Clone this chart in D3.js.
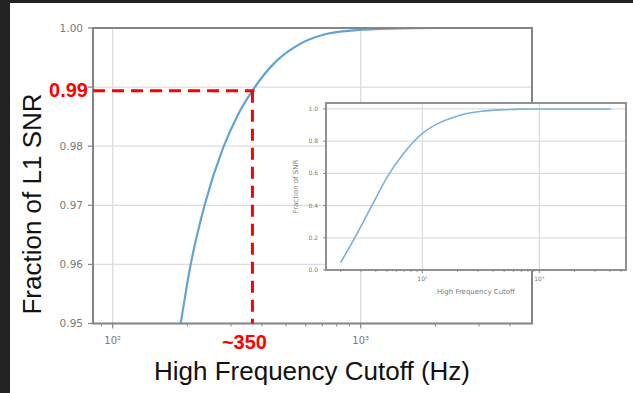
<!DOCTYPE html>
<html>
<head>
<meta charset="utf-8">
<script src="https://cdn.jsdelivr.net/npm/d3@7"></script>
<style>
  html, body { margin: 0; padding: 0; background: #ffffff; }
  svg { display: block; }
</style>
</head>
<body>
<svg id="chart" width="633" height="393"></svg>
<script>
// ---------------- data ----------------
const freqHz = [20, 27.5, 37, 50, 69, 100, 141, 175, 188, 205, 235, 279, 320, 369, 458, 552, 706, 963, 1313, 2000, 4096];
const snrFraction = [0.046, 0.223, 0.40, 0.577, 0.723, 0.848, 0.915, 0.9423, 0.950, 0.9594, 0.9701, 0.97975, 0.98534, 0.98963, 0.99444, 0.99698, 0.99885, 0.99963, 0.9999, 1.0, 1.0];
const mainYTicks = [0.95, 0.96, 0.97, 0.98, 0.99, 1.00];
const mainYTickLabels = ["0.95", "0.96", "0.97", "0.98", "0.99", "1.00"];
const majorXTicks = [100, 1000];
const majorXTickLabels = ["10\u00B2", "10\u00B3"];
const mainMinorXTicks = [90, 200, 300, 400, 500, 600, 700, 800, 900, 2000, 3000, 4000];
const insetYTicks = [0.0, 0.2, 0.4, 0.6, 0.8, 1.0];
const insetYTickLabels = ["0.0", "0.2", "0.4", "0.6", "0.8", "1.0"];
const insetMinorXTicks = [20, 30, 40, 50, 60, 70, 80, 90, 200, 300, 400, 500, 600, 700, 800, 900, 2000, 3000, 4000, 5000];
const cutoffHz = [366];
const cutoffFraction = [0.9894];
const cutoffLabels = ["0.99", "~350"];
const mainXLabel = "High Frequency Cutoff (Hz)";
const mainYLabel = "Fraction of L1 SNR";
const insetXLabel = "High Frequency Cutoff";
const insetYLabel = "Fraction of SNR";

// ---------------- drawing ----------------
const svg = d3.select("#chart");
const W = 633, H = 393;

// dark frame of the screenshot
svg.append("rect").attr("x", 0).attr("y", 0).attr("width", W).attr("height", H).attr("fill", "#232323");
svg.append("rect").attr("x", 10).attr("y", 3).attr("width", W - 10).attr("height", H - 3).attr("fill", "#ffffff");

const tickFont = "'DejaVu Sans', sans-serif";
const labelFont = "'Liberation Sans', Arial, sans-serif";
const tickColor = "#7a7a7a";
const gridColor = "#dcdcdc";
const frameColor = "#858585";

// ---- main plot ----
const M = { left: 93, right: 532, top: 28, bottom: 323.5 };
const x = d3.scaleLog().domain([83.3, 4906]).range([M.left, M.right]);
const y = d3.scaleLinear().domain([0.95, 1.0]).range([M.bottom, M.top]);

const gMain = svg.append("g");

// grid
gMain.selectAll("line.gy").data(mainYTicks).join("line")
  .attr("x1", M.left).attr("x2", M.right)
  .attr("y1", d => y(d)).attr("y2", d => y(d))
  .attr("stroke", gridColor).attr("stroke-width", 1.3);
gMain.selectAll("line.gx").data(majorXTicks).join("line")
  .attr("x1", d => x(d)).attr("x2", d => x(d))
  .attr("y1", M.top).attr("y2", M.bottom)
  .attr("stroke", gridColor).attr("stroke-width", 1.3);

// curve (clipped)
svg.append("clipPath").attr("id", "mainClip").append("rect")
  .attr("x", M.left).attr("y", M.top).attr("width", M.right - M.left).attr("height", M.bottom - M.top);
const pts = freqHz.map((f, i) => [f, snrFraction[i]]);
const lineMain = d3.line().x(d => x(d[0])).y(d => y(d[1])).curve(d3.curveMonotoneX);
gMain.append("path").datum(pts)
  .attr("clip-path", "url(#mainClip)")
  .attr("d", lineMain)
  .attr("fill", "none").attr("stroke", "#62a3d6").attr("stroke-width", 2.2);

// frame
gMain.append("rect").attr("x", M.left).attr("y", M.top)
  .attr("width", M.right - M.left).attr("height", M.bottom - M.top)
  .attr("fill", "none").attr("stroke", frameColor).attr("stroke-width", 2);

// y ticks (the 0.99 label is replaced by the red annotation)
gMain.selectAll("line.ty").data(mainYTicks).join("line")
  .attr("x1", M.left - 5).attr("x2", M.left)
  .attr("y1", d => y(d)).attr("y2", d => y(d))
  .attr("stroke", frameColor).attr("stroke-width", 1.2);
const yLabelIdx = mainYTicks.map((d, i) => i).filter(i => mainYTickLabels[i] !== cutoffLabels[0]);
gMain.selectAll("text.ty").data(yLabelIdx).join("text")
  .attr("x", M.left - 10).attr("y", i => y(mainYTicks[i])).attr("dy", "0.35em")
  .attr("text-anchor", "end").attr("font-family", tickFont).attr("font-size", 10.5)
  .attr("fill", tickColor)
  .text(i => mainYTickLabels[i]);

// x ticks
gMain.selectAll("line.tx").data(majorXTicks).join("line")
  .attr("x1", d => x(d)).attr("x2", d => x(d))
  .attr("y1", M.bottom).attr("y2", M.bottom + 5)
  .attr("stroke", frameColor).attr("stroke-width", 1.2);
gMain.selectAll("line.tmx").data(mainMinorXTicks).join("line")
  .attr("x1", d => x(d)).attr("x2", d => x(d))
  .attr("y1", M.bottom).attr("y2", M.bottom + 3)
  .attr("stroke", frameColor).attr("stroke-width", 1);
gMain.selectAll("text.tx").data(majorXTicks).join("text")
  .attr("x", d => x(d)).attr("y", M.bottom + 20)
  .attr("text-anchor", "middle").attr("font-family", tickFont).attr("font-size", 10)
  .attr("fill", tickColor)
  .text((d, i) => majorXTickLabels[i]);

// axis labels
svg.append("text").attr("x", 312).attr("y", 380)
  .attr("text-anchor", "middle").attr("font-family", labelFont).attr("font-size", 26)
  .attr("fill", "#111").text(mainXLabel);
svg.append("text")
  .attr("transform", "translate(41,204) rotate(-90)")
  .attr("text-anchor", "middle").attr("font-family", labelFont).attr("font-size", 26)
  .attr("fill", "#111").text(mainYLabel);

// ---- red cutoff annotation ----
const cx = x(cutoffHz[0]), cy = y(cutoffFraction[0]);
svg.append("line").attr("x1", M.left).attr("x2", cx + 2).attr("y1", cy).attr("y2", cy)
  .attr("stroke", "#ff0000").attr("stroke-width", 3).attr("stroke-dasharray", "12,7");
svg.append("line").attr("x1", cx).attr("x2", cx).attr("y1", cy).attr("y2", M.bottom)
  .attr("stroke", "#ff0000").attr("stroke-width", 3).attr("stroke-dasharray", "12,7");
svg.append("text").attr("x", 88).attr("y", cy + 6.5)
  .attr("text-anchor", "end").attr("font-family", labelFont).attr("font-weight", "bold")
  .attr("font-size", 20).attr("fill", "#ff0000").text(cutoffLabels[0]);
svg.append("text").attr("x", cx - 8).attr("y", 349)
  .attr("text-anchor", "middle").attr("font-family", labelFont).attr("font-weight", "bold")
  .attr("font-size", 20).attr("fill", "#ff0000").text(cutoffLabels[1]);

// ---- inset ----
const I = { left: 326, right: 626, top: 103, bottom: 270 };
const xi = d3.scaleLog().domain([15.0, 5508]).range([I.left, I.right]);
const yi = d3.scaleLinear().domain([0, 1.037]).range([I.bottom, I.top]);
const gIn = svg.append("g");

gIn.append("rect").attr("x", I.left).attr("y", I.top)
  .attr("width", I.right - I.left).attr("height", I.bottom - I.top).attr("fill", "#ffffff");
gIn.selectAll("line.gy").data(insetYTicks).join("line")
  .attr("x1", I.left).attr("x2", I.right)
  .attr("y1", d => yi(d)).attr("y2", d => yi(d))
  .attr("stroke", gridColor).attr("stroke-width", 1.2);
gIn.selectAll("line.gx").data(majorXTicks).join("line")
  .attr("x1", d => xi(d)).attr("x2", d => xi(d))
  .attr("y1", I.top).attr("y2", I.bottom)
  .attr("stroke", gridColor).attr("stroke-width", 1.2);

const lineIn = d3.line().x(d => xi(d[0])).y(d => yi(d[1])).curve(d3.curveMonotoneX);
gIn.append("path").datum(pts).attr("d", lineIn)
  .attr("fill", "none").attr("stroke", "#79b1dc").attr("stroke-width", 1.6);

gIn.append("rect").attr("x", I.left).attr("y", I.top)
  .attr("width", I.right - I.left).attr("height", I.bottom - I.top)
  .attr("fill", "none").attr("stroke", frameColor).attr("stroke-width", 1.8);

gIn.selectAll("line.ty").data(insetYTicks).join("line")
  .attr("x1", I.left - 3).attr("x2", I.left)
  .attr("y1", d => yi(d)).attr("y2", d => yi(d))
  .attr("stroke", frameColor).attr("stroke-width", 1);
gIn.selectAll("text.ty").data(insetYTicks).join("text")
  .attr("x", I.left - 8).attr("y", d => yi(d)).attr("dy", "0.35em")
  .attr("text-anchor", "end").attr("font-family", tickFont).attr("font-size", 6)
  .attr("fill", tickColor)
  .text((d, i) => insetYTickLabels[i]);
gIn.selectAll("line.tx").data(majorXTicks).join("line")
  .attr("x1", d => xi(d)).attr("x2", d => xi(d))
  .attr("y1", I.bottom).attr("y2", I.bottom + 3)
  .attr("stroke", frameColor).attr("stroke-width", 1);
gIn.selectAll("line.tmx").data(insetMinorXTicks).join("line")
  .attr("x1", d => xi(d)).attr("x2", d => xi(d))
  .attr("y1", I.bottom).attr("y2", I.bottom + 2)
  .attr("stroke", frameColor).attr("stroke-width", 0.8);
gIn.selectAll("text.tx").data(majorXTicks).join("text")
  .attr("x", d => xi(d)).attr("y", I.bottom + 11)
  .attr("text-anchor", "middle").attr("font-family", tickFont).attr("font-size", 6)
  .attr("fill", tickColor)
  .text((d, i) => majorXTickLabels[i]);
gIn.append("text").attr("x", (I.left + I.right) / 2).attr("y", I.bottom + 24)
  .attr("text-anchor", "middle").attr("font-family", tickFont).attr("font-size", 7)
  .attr("fill", tickColor).text(insetXLabel);
gIn.append("text")
  .attr("transform", `translate(298,${(I.top + I.bottom) / 2}) rotate(-90)`)
  .attr("text-anchor", "middle").attr("font-family", tickFont).attr("font-size", 7)
  .attr("fill", tickColor).text(insetYLabel);
</script>
</body>
</html>
